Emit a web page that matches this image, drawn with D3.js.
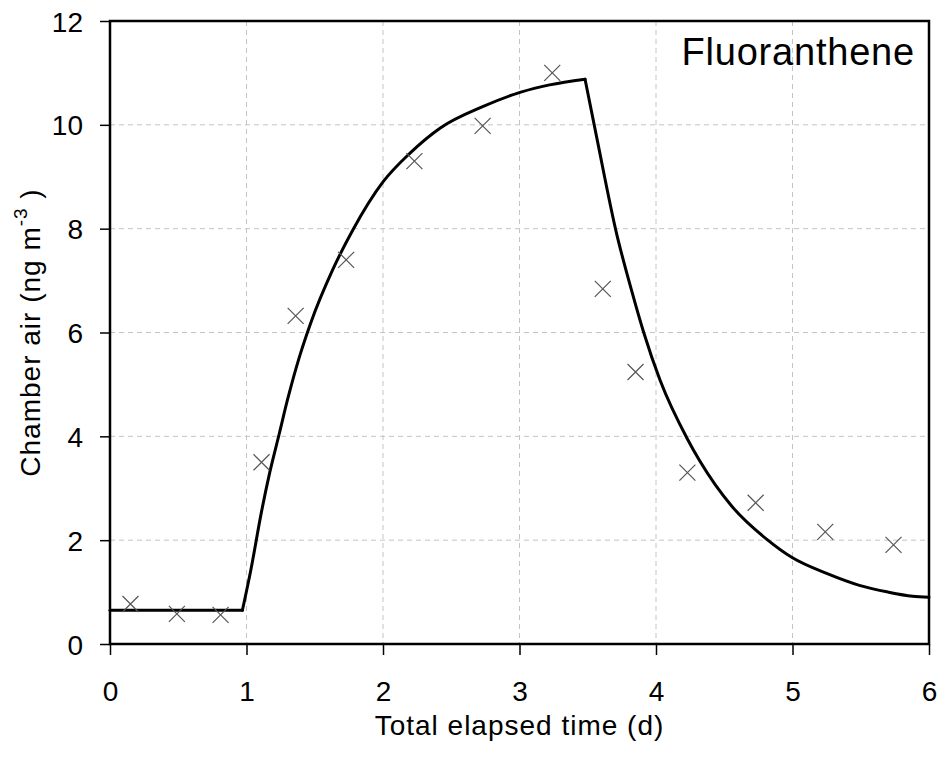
<!DOCTYPE html>
<html>
<head>
<meta charset="utf-8">
<script src="https://cdn.jsdelivr.net/npm/d3@7"></script>
<style>
  html, body { margin: 0; padding: 0; background: #fff; }
  svg { display: block; }
  text { font-family: "Liberation Sans", Arial, sans-serif; fill: #000; }
</style>
</head>
<body>
<svg id="chart" width="941" height="759"></svg>
<script>
// Measured points (× markers)
const obsTime = [0.15, 0.49, 0.81, 1.11, 1.36, 1.73, 2.23, 2.73, 3.24, 3.61, 3.85, 4.23, 4.73, 5.24, 5.74];
const obsConc = [0.77, 0.58, 0.56, 3.50, 6.32, 7.40, 9.30, 9.98, 11.00, 6.84, 5.24, 3.30, 2.72, 2.16, 1.91];

// Model curve, in three phases
const flatTime = [0, 0.97];
const flatConc = [0.65, 0.65];
const riseTime = [0.97, 1.03, 1.11, 1.17, 1.24, 1.30, 1.39, 1.47, 1.63, 1.78, 2.0, 2.2, 2.42, 2.73, 3.01, 3.22, 3.48];
const riseConc = [0.65, 1.40, 2.55, 3.30, 4.05, 4.70, 5.55, 6.18, 7.20, 7.98, 8.90, 9.46, 9.94, 10.35, 10.63, 10.77, 10.88];
const fallTime = [3.48, 3.57, 3.71, 3.82, 3.91, 4.03, 4.23, 4.32, 4.56, 4.81, 5.0, 5.25, 5.49, 5.7, 5.88, 6.0];
const fallConc = [10.88, 9.70, 7.92, 6.82, 6.00, 5.08, 3.95, 3.53, 2.64, 2.02, 1.66, 1.36, 1.13, 1.0, 0.92, 0.90];

const xTicks = [0, 1, 2, 3, 4, 5, 6];
const yTicks = [0, 2, 4, 6, 8, 10, 12];
const title = "Fluoranthene";
const xLabel = "Total elapsed time (d)";

const svg = d3.select("#chart");
const L = 110, R = 929, T = 21, B = 644;

const x = d3.scaleLinear().domain([0, 6]).range([L, R]);
const y = d3.scaleLinear().domain([0, 12]).range([B, T]);

// Gridlines
const grid = svg.append("g");
grid.selectAll("line.gx").data(xTicks.filter(d => d > 0 && d < 6)).join("line")
  .attr("x1", d => x(d)).attr("x2", d => x(d)).attr("y1", T).attr("y2", B)
  .attr("stroke", "#c4c4c4").attr("stroke-width", 1).attr("stroke-dasharray", "5,4");
grid.selectAll("line.gy").data(yTicks.filter(d => d > 0 && d < 12)).join("line")
  .attr("x1", L).attr("x2", R).attr("y1", d => y(d)).attr("y2", d => y(d))
  .attr("stroke", "#c4c4c4").attr("stroke-width", 1).attr("stroke-dasharray", "5,4");

// Axes
const xAxis = d3.axisBottom(x).tickValues(xTicks).tickSize(11).tickPadding(26).tickFormat(d3.format("d"));
const yAxis = d3.axisLeft(y).tickValues(yTicks).tickSize(10).tickPadding(16).tickFormat(d3.format("d"));

const gx = svg.append("g").attr("transform", `translate(0,${B})`).call(xAxis);
const gy = svg.append("g").attr("transform", `translate(${L},0)`).call(yAxis);
[gx, gy].forEach(g => {
  g.select(".domain").remove();
  g.selectAll(".tick line").attr("stroke", "#000").attr("stroke-width", 1.5);
  g.selectAll(".tick text").attr("font-size", 28).attr("font-family", "Liberation Sans, Arial, sans-serif").attr("fill", "#000");
});
gx.selectAll(".tick text").attr("dy", "0.71em").attr("y", 37);
gy.selectAll(".tick text").attr("x", -27).attr("dy", "0.36em");

// Frame
svg.append("rect").attr("x", L).attr("y", T).attr("width", R - L).attr("height", B - T)
  .attr("fill", "none").attr("stroke", "#000").attr("stroke-width", 2.5);

// Model line
const line = d3.line().x(d => x(d[0])).y(d => y(d[1])).curve(d3.curveMonotoneX);
[[flatTime, flatConc], [riseTime, riseConc], [fallTime, fallConc]].forEach(([ts, cs]) => {
  svg.append("path").datum(ts.map((t, i) => [t, cs[i]]))
    .attr("d", line).attr("fill", "none").attr("stroke", "#000").attr("stroke-width", 3)
    .attr("stroke-linejoin", "round").attr("stroke-linecap", "round");
});

// Markers
const s = 8;
svg.append("g").selectAll("path").data(obsTime.map((t, i) => [t, obsConc[i]])).join("path")
  .attr("d", d => {
    const cx = x(d[0]), cy = y(d[1]);
    return `M${cx - s},${cy - s}L${cx + s},${cy + s}M${cx - s},${cy + s}L${cx + s},${cy - s}`;
  })
  .attr("stroke", "#555").attr("stroke-width", 1.2).attr("fill", "none");

// Title inside plot
svg.append("text").attr("x", 915).attr("y", 65).attr("text-anchor", "end")
  .attr("font-size", 38).attr("letter-spacing", 0.8).text(title);

// X label
svg.append("text").attr("x", (L + R) / 2).attr("y", 735).attr("text-anchor", "middle")
  .attr("font-size", 28).attr("letter-spacing", 1).text(xLabel);

// Y label with superscript
const yl = svg.append("text").attr("transform", `translate(40,${(T + B) / 2}) rotate(-90)`)
  .attr("text-anchor", "middle").attr("font-size", 28).attr("letter-spacing", 1);
yl.append("tspan").text("Chamber air (ng m");
yl.append("tspan").attr("dy", -13).attr("font-size", 19).text("-3");
yl.append("tspan").attr("dy", 13).text(" )");
</script>
</body>
</html>
